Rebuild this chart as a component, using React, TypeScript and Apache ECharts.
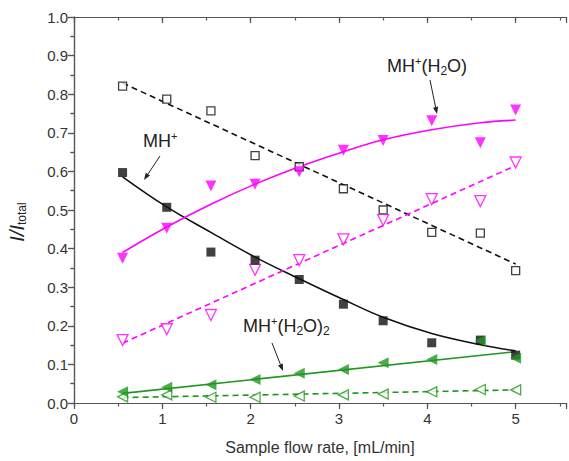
import React, { useEffect, useRef } from "react";
import * as echarts from "echarts";

// ---- data ----
const flowRate = [0.55, 1.05, 1.55, 2.05, 2.55, 3.05, 3.5, 4.05, 4.6, 5.0];
const mhFilled = [0.597, 0.507, 0.391, 0.37, 0.32, 0.256, 0.213, 0.156, 0.163, 0.124];
const mhOpen = [0.821, 0.787, 0.757, 0.641, 0.612, 0.555, 0.5, 0.442, 0.44, 0.343];
const mhwFilled = [0.375, 0.453, 0.562, 0.567, 0.599, 0.655, 0.68, 0.731, 0.674, 0.759];
const mhwOpen = [0.163, 0.191, 0.228, 0.345, 0.37, 0.424, 0.474, 0.528, 0.523, 0.623];
const mhw2Filled = [0.029, 0.041, 0.047, 0.061, 0.077, 0.087, 0.104, 0.113, 0.161, 0.116];
const mhw2Open = [0.016, 0.021, 0.015, 0.015, 0.018, 0.021, 0.023, 0.029, 0.035, 0.034];

// fitted curves / lines
const mhCurve = [0.586, 0.508, 0.442, 0.378, 0.322, 0.268, 0.222, 0.18, 0.151, 0.135];
const mhwCurve = [0.39, 0.456, 0.515, 0.567, 0.612, 0.651, 0.682, 0.708, 0.726, 0.733];
const lineEndsX = [0.55, 5.0];
const mhOpenLine = [0.829, 0.36];
const mhwOpenLine = [0.155, 0.615];
const mhw2FilledLine = [0.025, 0.133];
const mhw2OpenLine = [0.014, 0.034];

const xTicksMax = 5.57;
const FONT = "'Liberation Sans', Arial, sans-serif";
const BLACK = "#111111";
const MAGENTA = "#ff00ff";
const GREEN = "#1f961f";
const AXIS = "#555555";

const pairs = (ys: number[], xs: number[] = flowRate) => xs.map((x, i) => [x, ys[i]]);

function arrow(x1: number, y1: number, x2: number, y2: number) {
  const ang = Math.atan2(y2 - y1, x2 - x1);
  const L = 7, W = 2.6;
  const bx = x2 - L * Math.cos(ang), by = y2 - L * Math.sin(ang);
  const px = -Math.sin(ang), py = Math.cos(ang);
  return [
    { type: "line", shape: { x1, y1, x2: bx, y2: by }, style: { stroke: "#222", lineWidth: 1 }, z: 50 },
    {
      type: "polygon",
      shape: { points: [[x2, y2], [bx + W * px, by + W * py], [bx - W * px, by - W * py]] },
      style: { fill: "#222" },
      z: 50,
    },
  ];
}

const richLabel = {
  m: { fontSize: 18, fontFamily: FONT, lineHeight: 22, fill: "#222" },
  sup: { fontSize: 11, fontFamily: FONT, lineHeight: 12, verticalAlign: "top", fill: "#222" },
  sub: { fontSize: 12, fontFamily: FONT, lineHeight: 8, verticalAlign: "bottom", fill: "#222" },
};

export default function App() {
  const ref = useRef<HTMLDivElement>(null);
  useEffect(() => {
    if (!ref.current) return;
    const chart = echarts.init(ref.current, undefined, { renderer: "svg" });
    const axisLine = { show: true, lineStyle: { color: AXIS, width: 1.2 } };
    const tickStyle = { color: AXIS, width: 1.2 };
    const xBase = { type: "value", min: 0, max: xTicksMax, splitLine: { show: false } };
    const yBase = { type: "value", min: 0, max: 1, interval: 0.1, splitLine: { show: false } };

    const scatter = (name: string, ys: number[], symbol: string, rot: number, color: string, open: boolean, size: number) => ({
      name,
      type: "scatter",
      data: pairs(ys),
      symbol,
      symbolRotate: rot,
      symbolSize: size,
      itemStyle: open
        ? { color: "#ffffff", borderColor: color, borderWidth: 1.3 }
        : { color, borderWidth: 0 },
      z: open ? 3 : 4,
    });
    const line = (name: string, data: number[][], color: string, dashed: boolean, smooth: boolean) => ({
      name,
      type: "line",
      data,
      showSymbol: false,
      smooth: smooth ? 0.4 : false,
      lineStyle: { color, width: 1.6, type: dashed ? [6, 4] : "solid" },
      z: 2,
    });

    chart.setOption({
      animation: false,
      grid: { left: 74, right: -2, top: 17, bottom: 58 },
      xAxis: [
        {
          ...xBase,
          position: "bottom",
          interval: 1,
          axisLine,
          axisTick: { show: true, inside: false, length: 6, lineStyle: tickStyle },
          axisLabel: {
            show: true,
            fontSize: 15,
            fontFamily: FONT,
            color: "#333",
            margin: 8,
            formatter: (v: number) => (Number.isInteger(v) ? String(v) : ""),
          },
          name: "Sample flow rate, [mL/min]",
          nameLocation: "middle",
          nameGap: 36,
          nameTextStyle: { fontSize: 16, fontFamily: FONT, color: "#333" },
        },
        {
          ...xBase,
          position: "bottom",
          interval: 0.5,
          axisLine: { show: false },
          axisTick: { show: true, inside: false, length: 3.5, lineStyle: tickStyle },
          axisLabel: { show: false },
        },
        {
          ...xBase,
          position: "top",
          interval: 1,
          axisLine,
          axisTick: { show: true, inside: true, length: 6, lineStyle: tickStyle },
          axisLabel: { show: false },
        },
        {
          ...xBase,
          position: "top",
          interval: 0.5,
          axisLine: { show: false },
          axisTick: { show: true, inside: true, length: 3.5, lineStyle: tickStyle },
          axisLabel: { show: false },
        },
      ],
      yAxis: [
        {
          ...yBase,
          position: "left",
          axisLine,
          axisTick: { show: true, inside: false, length: 6, lineStyle: tickStyle },
          minorTick: { show: true, splitNumber: 2, length: 3.5, lineStyle: tickStyle },
          minorSplitLine: { show: false },
          axisLabel: {
            show: true,
            fontSize: 15,
            fontFamily: FONT,
            color: "#333",
            margin: 6,
            formatter: (v: number) => v.toFixed(1),
          },
        },
        {
          ...yBase,
          position: "right",
          axisLine,
          axisTick: { show: true, inside: true, length: 6, lineStyle: tickStyle },
          minorTick: { show: true, splitNumber: 2, length: 3.5, lineStyle: tickStyle },
          minorSplitLine: { show: false },
          axisLabel: { show: false },
        },
      ],
      series: [
        line("MH+ fit", pairs(mhCurve), BLACK, false, true),
        line("MH+ open fit", pairs(mhOpenLine, lineEndsX), BLACK, true, false),
        line("MH+(H2O) fit", pairs(mhwCurve), MAGENTA, false, true),
        line("MH+(H2O) open fit", pairs(mhwOpenLine, lineEndsX), MAGENTA, true, false),
        line("MH+(H2O)2 fit", pairs(mhw2FilledLine, lineEndsX), GREEN, false, false),
        line("MH+(H2O)2 open fit", pairs(mhw2OpenLine, lineEndsX), GREEN, true, false),
        scatter("MH+ open", mhOpen, "rect", 0, BLACK, true, 8),
        scatter("MH+", mhFilled, "rect", 0, BLACK, false, 9),
        scatter("MH+(H2O) open", mhwOpen, "triangle", 180, MAGENTA, true, 11),
        scatter("MH+(H2O)", mhwFilled, "triangle", 180, MAGENTA, false, 11),
        scatter("MH+(H2O)2 open", mhw2Open, "triangle", 90, GREEN, true, 10),
        scatter("MH+(H2O)2", mhw2Filled, "triangle", 90, GREEN, false, 11),
      ],
      graphic: [
        {
          type: "text",
          x: 17,
          y: 222,
          rotation: Math.PI / 2,
          style: {
            text: "{i|I/I}{s|total}",
            align: "center",
            verticalAlign: "middle",
            rich: {
              i: { fontSize: 20, fontStyle: "italic", fontFamily: FONT, lineHeight: 22, fill: "#222" },
              s: { fontSize: 12, fontFamily: FONT, lineHeight: 10, verticalAlign: "bottom", fill: "#222" },
            },
          },
        },
        {
          type: "text",
          x: 143,
          y: 130,
          style: { text: "{m|MH}{sup|+}", rich: richLabel },
          z: 50,
        },
        {
          type: "text",
          x: 387,
          y: 55,
          style: { text: "{m|MH}{sup|+}{m|(H}{sub|2}{m|O)}", rich: richLabel },
          z: 50,
        },
        {
          type: "text",
          x: 243,
          y: 315,
          style: { text: "{m|MH}{sup|+}{m|(H}{sub|2}{m|O)}{sub|2}", rich: richLabel },
          z: 50,
        },
        ...arrow(160, 156, 144, 180),
        ...arrow(430, 80, 437, 114),
        ...arrow(272, 343, 283, 371),
      ],
    });
    return () => chart.dispose();
  }, []);
  return (
    <div style={{ position: "fixed", left: 0, top: 0, width: 569, height: 461, overflow: "hidden", background: "#fff" }}>
      <div ref={ref} style={{ width: 569, height: 461 }} />
    </div>
  );
}
